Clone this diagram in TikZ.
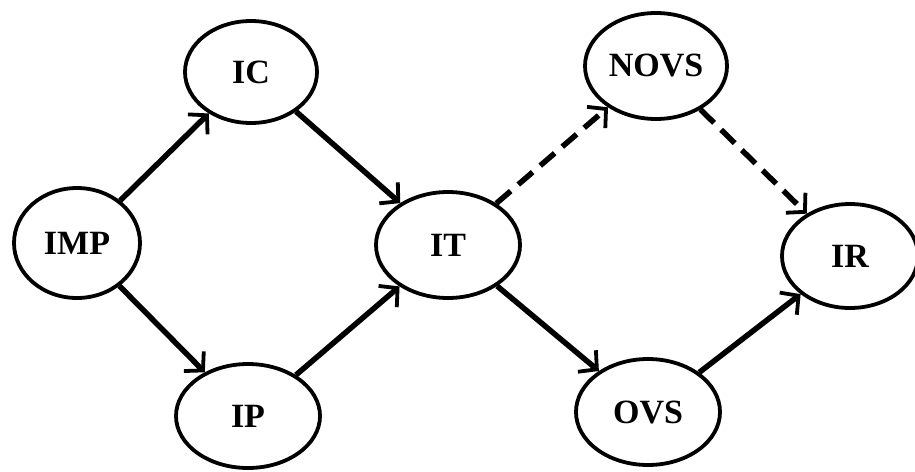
\documentclass[tikz,border=0pt]{standalone}
\usepackage{fontspec}
\setmainfont{Liberation Serif}
\usetikzlibrary{shapes.geometric,arrows.meta}
\begin{document}
\begin{tikzpicture}[x=1pt,y=-1pt,
  state/.style={ellipse, draw, line width=3.8pt, inner sep=0pt,
    font=\fontsize{34}{40}\selectfont\bfseries},
  link/.style={line width=5.5pt, -{Straight Barb[length=13pt,width=28pt,line width=3.8pt]}},
  dlink/.style={link, dash pattern=on 19pt off 10pt}]
\fill[white] (0,0) rectangle (915,471);
\useasboundingbox (0,0) rectangle (915,471);
\node[state, minimum width=126pt, minimum height=110pt] (IMP) at (77,243) {IMP};
\node[state, minimum width=132pt, minimum height=102pt] (IC) at (251,72) {IC};
\node[state, minimum width=144pt, minimum height=104pt] (IP) at (248,416) {IP};
\node[state, minimum width=144pt, minimum height=106pt] (IT) at (448,245) {IT};
\node[state, minimum width=142pt, minimum height=106pt] (NOVS) at (656,66) {NOVS};
\node[state, minimum width=144pt, minimum height=106pt] (OVS) at (648,412) {OVS};
\node[state, minimum width=136pt, minimum height=104pt] (IR) at (850,256) {IR};
\draw[link] (IMP) -- (IC);
\draw[link] (IMP) -- (IP);
\draw[link] (IC) -- (IT);
\draw[link] (IP) -- (IT);
\draw[dlink] (IT) -- (NOVS);
\draw[link] (IT) -- (OVS);
\draw[dlink] (NOVS) -- (IR);
\draw[link] (OVS) -- (IR);
\end{tikzpicture}
\end{document}
